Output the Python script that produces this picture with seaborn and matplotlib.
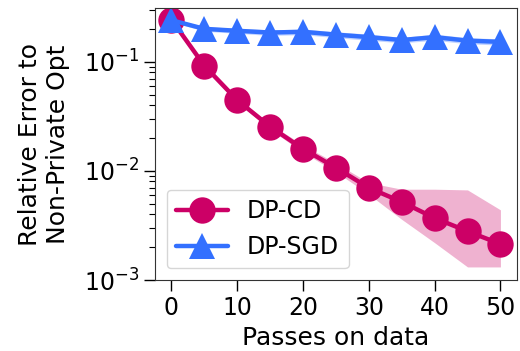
import numpy as np
import pandas as pd
import matplotlib
matplotlib.use("Agg")
import matplotlib.pyplot as plt
import seaborn as sns

passes = [0, 5, 10, 15, 20, 25, 30, 35, 40, 45, 50]
cd_mean = [0.243, 0.092, 0.0445, 0.0254, 0.0159, 0.0107, 0.0070, 0.0052, 0.0037, 0.0028, 0.00214]
cd_lo = [0.238, 0.088, 0.0425, 0.0240, 0.0148, 0.0098, 0.0061, 0.0036, 0.0022, 0.00132, 0.00132]
cd_hi = [0.248, 0.096, 0.0465, 0.0270, 0.0172, 0.0118, 0.0078, 0.0068, 0.0068, 0.0067, 0.0044]
sgd_mean = [0.240, 0.200, 0.192, 0.185, 0.188, 0.177, 0.168, 0.158, 0.168, 0.156, 0.152]
sgd_lo = [0.232, 0.190, 0.182, 0.174, 0.177, 0.166, 0.157, 0.149, 0.157, 0.146, 0.142]
sgd_hi = [0.248, 0.210, 0.202, 0.196, 0.199, 0.188, 0.179, 0.167, 0.179, 0.166, 0.162]

labels = ["DP-CD", "DP-SGD"]
colors = ["#CC0066", "#3370FF"]

df = pd.DataFrame({
    "passes": passes * 2,
    "err": cd_mean + sgd_mean,
    "method": [labels[0]] * len(passes) + [labels[1]] * len(passes),
})

sns.set_style("ticks")
plt.rcParams["font.family"] = ["DejaVu Sans"]
plt.rcParams["text.color"] = "black"
plt.rcParams["axes.labelcolor"] = "black"
plt.rcParams["xtick.color"] = "black"
plt.rcParams["ytick.color"] = "black"

fig, ax = plt.subplots(figsize=(5.2, 3.51), dpi=100)
ax.fill_between(passes, cd_lo, cd_hi, color=colors[0], alpha=0.3, lw=0)
ax.fill_between(passes, sgd_lo, sgd_hi, color=colors[1], alpha=0.3, lw=0)
sns.lineplot(data=df, x="passes", y="err", hue="method", style="method",
             markers={"DP-CD": "o", "DP-SGD": "^"}, dashes=False,
             palette=dict(zip(labels, colors)), markersize=19, linewidth=3.2,
             markeredgewidth=0, ax=ax)
ax.set_yscale("log")
ax.set_ylim(1e-3, 0.31)
ax.set_xlim(-2.5, 52.5)
ax.set_xticks([0, 10, 20, 30, 40, 50])
ax.set_xlabel("Passes on data", fontsize=18)
ax.set_ylabel("Relative Error to\nNon-Private Opt", fontsize=18, labelpad=10)
ax.tick_params(labelsize=17)
ax.tick_params(which="major", length=8, width=1)
ax.tick_params(axis="y", which="minor", length=4, width=0.8, left=True)
for s in ax.spines.values():
    s.set_color("#333333")
leg = ax.legend(loc="lower left", fontsize=17, handlelength=2.2)
leg.get_frame().set_edgecolor("#cccccc")
fig.subplots_adjust(left=0.298, right=0.994, top=0.977, bottom=0.202)
fig.savefig("out.png", dpi=100)
